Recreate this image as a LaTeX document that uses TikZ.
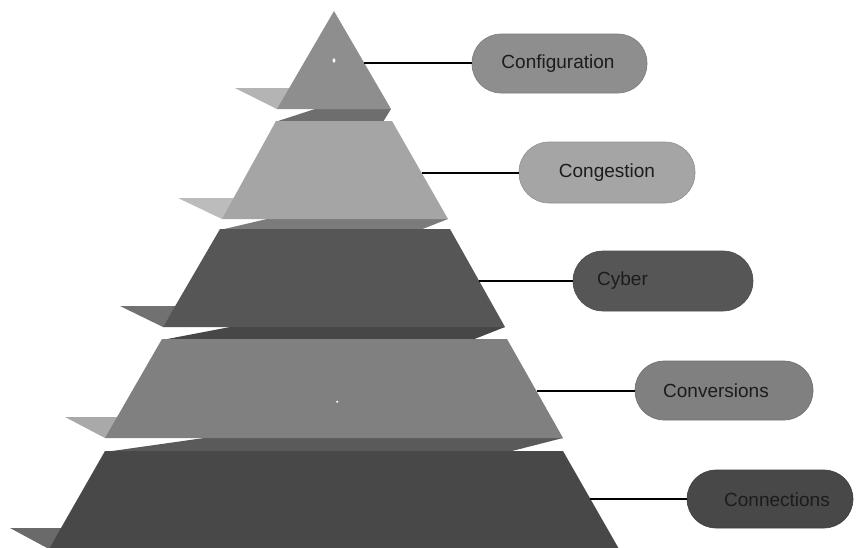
\documentclass[tikz,border=0pt]{standalone}
\usepackage{fontspec}
\setmainfont{Liberation Sans}
\definecolor{faceA}{HTML}{8E8E8E}
\definecolor{faceB}{HTML}{A5A5A5}
\definecolor{faceC}{HTML}{565656}
\definecolor{faceD}{HTML}{808080}
\definecolor{faceE}{HTML}{484848}
\definecolor{flapA}{HTML}{B4B4B4}
\definecolor{flapB}{HTML}{BCBCBC}
\definecolor{flapC}{HTML}{717171}
\definecolor{flapD}{HTML}{A9A9A9}
\definecolor{flapE}{HTML}{6A6A6A}
\definecolor{bandA}{HTML}{6E6E6E}
\definecolor{bandB}{HTML}{7B7B7B}
\definecolor{bandC}{HTML}{474747}
\definecolor{bandD}{HTML}{5A5A5A}
\definecolor{inktext}{HTML}{1C1C1C}
\tikzset{
  pill/.style={fill=#1, draw=#1!88!black, line width=0.6pt,
    rounded corners=29pt, minimum height=59pt, inner sep=0pt},
  pilltext/.style={text=inktext, font=\fontsize{19}{22}\selectfont, inner sep=0pt},
  leader/.style={black, line width=1.6pt},
  speck/.style={fill=white, draw=none}
}
\begin{document}
\begin{tikzpicture}[x=1pt, y=-1pt]
\clip (0,0) rectangle (856,547);
\fill[white] (0,0) rectangle (856,547);

% dark undersides between the layers
\fill[bandA] (315,109) -- (391,109) -- (383,122) -- (275,122) -- cycle;
\fill[bandB] (267,219) -- (448,219) -- (420,230) -- (220,230) -- cycle;
\fill[bandC] (230,327) -- (505,327) -- (472,340) -- (162,340) -- cycle;
\fill[bandD] (204,438) -- (563,438) -- (508,452) -- (105,452) -- cycle;

% side flaps
\fill[flapA] (235,88) -- (291,88) -- (277,109) -- cycle;
\fill[flapB] (178,198) -- (235,198) -- (222,219) -- cycle;
\fill[flapC] (120,306) -- (176,306) -- (163,327) -- cycle;
\fill[flapD] (65,417) -- (119,417) -- (105,438) -- cycle;
\fill[flapE] (10,528) -- (62,528) -- (49,549) -- cycle;

% pyramid layers
\fill[faceA] (334,11) -- (391,109) -- (277,109) -- cycle;
\fill[faceB] (276,121) -- (392,121) -- (448,219) -- (222,219) -- cycle;
\fill[faceC] (220,229) -- (450,229) -- (505,327) -- (163,327) -- cycle;
\fill[faceD] (162,339) -- (507,339) -- (563,438) -- (105,438) -- cycle;
\fill[faceE] (105,451) -- (563,451) -- (619,549) -- (49,549) -- cycle;

% small white specks
\fill[speck] (334,60.5) ellipse (1.4 and 2.2);
\fill[speck] (337.3,401.7) circle (1.1);

% leader anchors on the right edges of the layers
\coordinate (e1) at (364,63);
\coordinate (e2) at (422,173);
\coordinate (e3) at (479,281);
\coordinate (e4) at (537,391);
\coordinate (e5) at (590,499);

% label pills
\node[pill=faceA, minimum width=175pt] (p1) at (559.5,63.5) {};
\node[pill=faceB, minimum width=176pt, minimum height=61pt, rounded corners=30pt] (p2) at (607,172.5) {};
\node[pill=faceC, minimum width=180pt, minimum height=60pt, rounded corners=30pt] (p3) at (663,281) {};
\node[pill=faceD, minimum width=178pt] (p4) at (724,390.5) {};
\node[pill=faceE, minimum width=166pt, minimum height=58pt] (p5) at (770,499) {};

\node[pilltext] (t1) at (558,64) {Configuration};
\node[pilltext] (t2) at (607,173) {Congestion};
\node[pilltext, anchor=west] (t3) at (597,281) {Cyber};
\node[pilltext] (t4) at (716,391) {Conversions};
\node[pilltext] (t5) at (777,500) {Connections};

% leader lines
\draw[leader] (e1) -- (p1.west |- e1);
\draw[leader] (e2) -- (p2.west |- e2);
\draw[leader] (e3) -- (p3.west |- e3);
\draw[leader] (e4) -- (p4.west |- e4);
\draw[leader] (e5) -- (p5.west |- e5);
\end{tikzpicture}
\end{document}
